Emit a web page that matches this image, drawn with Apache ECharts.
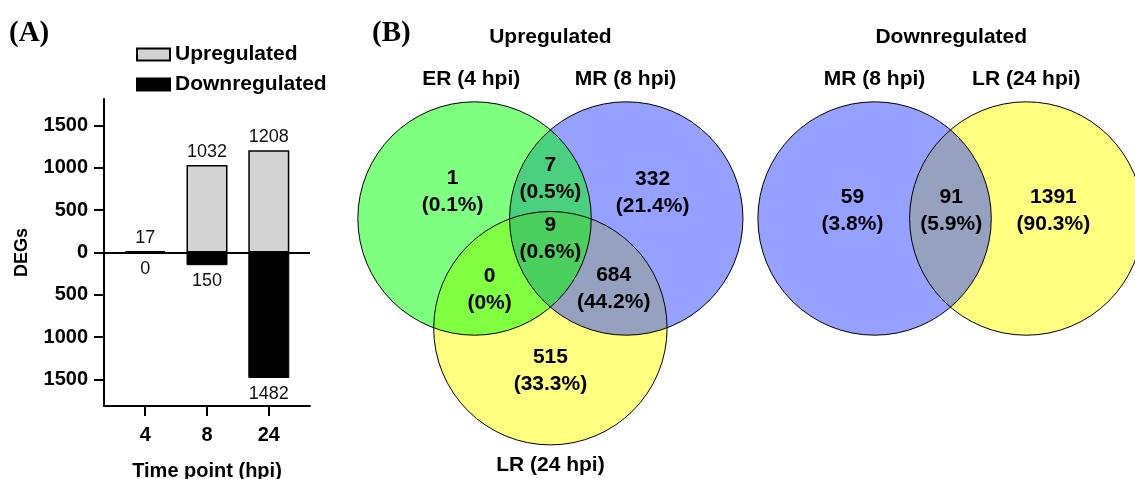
<!DOCTYPE html>
<html><head><meta charset="utf-8">
<script src="https://cdn.jsdelivr.net/npm/echarts@6/dist/echarts.min.js"></script>
<style>html,body{margin:0;padding:0;background:#fff}#c{width:1135px;height:479px}</style>
</head><body><div id="c"></div>
<script>
// ---------- DATA ----------
const timePoints = ['4', '8', '24'];
const upregulated = [17, 1032, 1208];
const downregulated = [0, 150, 1482];
const yTickValues = [-1500, -1000, -500, 0, 500, 1000, 1500];

const vennTitles = ['Upregulated', 'Downregulated'];
const upSetNames = ['ER (4 hpi)', 'MR (8 hpi)', 'LR (24 hpi)'];
// ER only, ER∩MR, MR only, ER∩MR∩LR, ER∩LR, MR∩LR, LR only
const upRegionCounts = [1, 7, 332, 9, 0, 684, 515];
const downSetNames = ['MR (8 hpi)', 'LR (24 hpi)'];
// MR only, MR∩LR, LR only
const downRegionCounts = [59, 91, 1391];

// ---------- LAYOUT (Venn, in circle-radius units) ----------
const R = 1;
const upCircles = [[-0.65, 0], [0.65, 0], [0, -0.94]];          // ER, MR, LR
const downCircles = [[2.778, 0], [4.078, 0]];                   // MR, LR
const upSetLabelPos = [[-0.678, 1.195], [0.644, 1.195], [0, -2.112]];
const downSetLabelPos = [[2.778, 1.195], [4.078, 1.195]];
const upRegionPos = [[-0.838, 0.227], [0, 0.338], [0.876, 0.219], [0, -0.171], [-0.521, -0.608], [0.542, -0.60], [0, -1.302]];
const downRegionPos = [[2.589, 0.064], [3.435, 0.064], [4.31, 0.064]];
const titlePos = [[0, 1.555], [3.435, 1.555]];

const GREEN = 'rgba(0,255,0,0.5)';
const BLUE = 'rgba(45,65,255,0.5)';
const YELLOW = 'rgba(255,255,0,0.5)';
const FONT = 'Liberation Sans, Arial, sans-serif';

// category positions on the bar panel's x axis
const catPos = i => 2 + 3 * i;

function pct(c, total) {
  return c === 0 ? '0%' : (c / total * 100).toFixed(1) + '%';
}
const upTotal = upRegionCounts.reduce((a, b) => a + b, 0);
const downTotal = downRegionCounts.reduce((a, b) => a + b, 0);

// Venn circles (fill order: LR, MR, ER for up; LR, MR for down)
const circleData = [
  { value: upCircles[2], itemStyle: { color: YELLOW } },
  { value: upCircles[1], itemStyle: { color: BLUE } },
  { value: upCircles[0], itemStyle: { color: GREEN } },
  { value: downCircles[1], itemStyle: { color: YELLOW } },
  { value: downCircles[0], itemStyle: { color: BLUE } }
];

// Venn texts
const vennTexts = [];
vennTitles.forEach((t, i) => vennTexts.push({ value: titlePos[i], text: t }));
upSetNames.forEach((t, i) => vennTexts.push({ value: upSetLabelPos[i], text: t }));
downSetNames.forEach((t, i) => vennTexts.push({ value: downSetLabelPos[i], text: t }));
upRegionCounts.forEach((c, i) => vennTexts.push({ value: upRegionPos[i], text: c + '\n(' + pct(c, upTotal) + ')' }));
downRegionCounts.forEach((c, i) => vennTexts.push({ value: downRegionPos[i], text: c + '\n(' + pct(c, downTotal) + ')' }));

const chart = echarts.init(document.getElementById('c'), null, { renderer: 'canvas' });

const axisColor = '#000';
const option = {
  animation: false,
  backgroundColor: '#fff',
  title: [
    { text: '(A)', left: 9, top: 19, padding: 0, textStyle: { fontFamily: 'Liberation Serif, Times New Roman, serif', fontWeight: 'bold', fontSize: 29, color: '#000' } },
    { text: '(B)', left: 372, top: 19, padding: 0, textStyle: { fontFamily: 'Liberation Serif, Times New Roman, serif', fontWeight: 'bold', fontSize: 29, color: '#000' } }
  ],
  legend: {
    data: ['Upregulated', 'Downregulated'],
    orient: 'vertical',
    left: 131, top: 39,
    itemWidth: 33, itemHeight: 12, itemGap: 9,
    icon: 'rect',
    textStyle: { fontFamily: FONT, fontWeight: 'bold', fontSize: 21, color: '#000' }
  },
  grid: [
    { left: 104, top: 99, width: 206, height: 307, containLabel: false, outerBoundsMode: 'none' },
    { left: 317, right: 0, top: 0, bottom: 0, containLabel: false, outerBoundsMode: 'none' }
  ],
  xAxis: [
    {
      type: 'value', gridIndex: 0, min: 0, max: 10,
      splitLine: { show: false },
      axisLine: { show: true, onZero: false, lineStyle: { color: axisColor, width: 2 } },
      axisTick: { show: true, length: 10, lineStyle: { color: axisColor, width: 2 }, customValues: timePoints.map((_, i) => catPos(i)) },
      axisLabel: {
        customValues: timePoints.map((_, i) => catPos(i)),
        formatter: v => { const i = timePoints.findIndex((_, k) => catPos(k) === v); return i >= 0 ? timePoints[i] : ''; },
        margin: 19, fontFamily: FONT, fontWeight: 'bold', fontSize: 20, color: '#000'
      },
      name: 'Time point (hpi)', nameLocation: 'middle', nameGap: 55,
      nameTextStyle: { fontFamily: FONT, fontWeight: 'bold', fontSize: 20, color: '#000' }
    },
    { type: 'value', gridIndex: 1, min: -2, max: -2 + 818 / 116.7, show: false }
  ],
  yAxis: [
    {
      type: 'value', gridIndex: 0, min: -1813, max: 1813,
      splitLine: { show: false },
      axisLine: { show: true, onZero: false, lineStyle: { color: axisColor, width: 2 } },
      axisTick: { show: true, length: 10, lineStyle: { color: axisColor, width: 2 }, customValues: yTickValues },
      axisLabel: {
        customValues: yTickValues,
        formatter: v => String(Math.abs(v)),
        margin: 16, fontFamily: FONT, fontWeight: 'bold', fontSize: 20, color: '#000'
      },
      name: 'DEGs', nameLocation: 'middle', nameGap: 73,
      nameTextStyle: { fontFamily: FONT, fontWeight: 'bold', fontSize: 18, color: '#000' }
    },
    { type: 'value', gridIndex: 1, min: -(479 - 218.5) / 116.7, max: 218.5 / 116.7, show: false }
  ],
  series: [
    {
      name: 'Upregulated', type: 'bar', xAxisIndex: 0, yAxisIndex: 0,
      barWidth: 41, barGap: '-100%',
      data: upregulated.map((v, i) => [catPos(i), v]),
      itemStyle: { color: '#d3d3d3', borderColor: '#000', borderWidth: 1.5 },
      label: { show: true, position: 'top', distance: 4, formatter: p => String(p.value[1]), fontFamily: FONT, fontSize: 18, color: '#111' },
      markLine: {
        silent: true, symbol: 'none',
        label: { show: false },
        lineStyle: { color: '#000', width: 2, type: 'solid' },
        data: [{ yAxis: 0 }]
      },
      z: 2
    },
    {
      name: 'Downregulated', type: 'bar', xAxisIndex: 0, yAxisIndex: 0,
      barWidth: 41, barGap: '-100%',
      data: downregulated.map((v, i) => [catPos(i), -v]),
      itemStyle: { color: '#000', borderColor: '#000', borderWidth: 1 },
      label: { show: true, position: 'bottom', distance: 7, formatter: p => String(Math.abs(p.value[1])), fontFamily: FONT, fontSize: 18, color: '#111' },
      z: 2
    },
    {
      type: 'custom', xAxisIndex: 1, yAxisIndex: 1, silent: true, z: 3,
      data: circleData,
      renderItem: (params, api) => {
        const c = api.coord([api.value(0), api.value(1)]);
        const r = api.size([R, R])[0];
        return { type: 'circle', shape: { cx: c[0], cy: c[1], r: r }, style: { fill: api.visual('color'), stroke: null } };
      }
    },
    {
      type: 'custom', xAxisIndex: 1, yAxisIndex: 1, silent: true, z: 4,
      data: circleData.map(d => ({ value: d.value })),
      renderItem: (params, api) => {
        const c = api.coord([api.value(0), api.value(1)]);
        const r = api.size([R, R])[0];
        return { type: 'circle', shape: { cx: c[0], cy: c[1], r: r }, style: { fill: null, stroke: '#000', lineWidth: 1 } };
      }
    },
    {
      type: 'custom', xAxisIndex: 1, yAxisIndex: 1, silent: true, z: 5,
      data: vennTexts.map(d => ({ value: d.value })),
      renderItem: (params, api) => {
        const c = api.coord([api.value(0), api.value(1)]);
        return {
          type: 'text', x: c[0], y: c[1],
          style: {
            text: vennTexts[params.dataIndex].text,
            fill: '#000', fontFamily: FONT, fontWeight: 'bold', fontSize: 21,
            lineHeight: 27, align: 'center', verticalAlign: 'middle'
          }
        };
      }
    }
  ]
};
chart.setOption(option);
</script>
</body></html>
